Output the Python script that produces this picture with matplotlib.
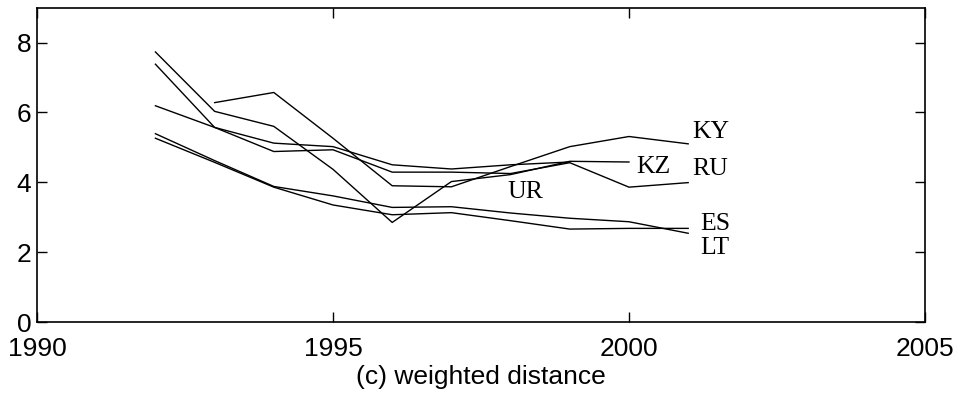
import numpy as np
import matplotlib
matplotlib.use("Agg")
import matplotlib.pyplot as plt

years = [1992, 1993, 1994, 1995, 1996, 1997, 1998, 1999, 2000, 2001]
nan = np.nan

# weighted distance per country
ky = [nan, 6.28, 6.57, 5.26, 3.90, 3.87, 4.45, 5.02, 5.31, 5.10]
kz = [7.73, 6.03, 5.60, 4.37, 2.85, 4.02, 4.22, 4.60, 4.58, nan]
ru = [7.38, 5.57, 4.88, 4.93, 4.29, 4.29, 4.25, 4.56, 3.86, 3.99]
ur = [6.19, 5.57, 5.12, 5.02, 4.50, 4.38, 4.50, 4.58, nan, nan]
es = [5.26, 4.57, 3.86, 3.35, 3.07, 3.13, 2.90, 2.66, 2.68, 2.68]
lt = [5.39, 4.62, 3.88, 3.61, 3.28, 3.30, 3.12, 2.97, 2.87, 2.54]

series = [ky, kz, ru, ur, es, lt]
labels = ["KY", "KZ", "RU", "UR", "ES", "LT"]
label_x = [2001.07, 2000.13, 2001.07, 1997.95, 2001.2, 2001.2]
label_y = [5.44, 4.43, 4.38, 3.72, 2.81, 2.13]

x_ticks = [1990, 1995, 2000, 2005]
y_ticks = [0, 2, 4, 6, 8]

plt.rcParams['font.family'] = ['Liberation Sans', 'DejaVu Sans']

fig = plt.figure(figsize=(9.62, 4.0), dpi=100)
ax = fig.add_axes([0.0385, 0.195, 0.923, 0.786])

for vals in series:
    ax.plot(years, vals, color='black', linewidth=1.0)

for name, tx, ty in zip(labels, label_x, label_y):
    ax.text(tx, ty, name, family=['Liberation Serif', 'DejaVu Serif'],
            fontsize=18.5, ha='left', va='center', color='black')

ax.set_xlim(1990, 2005)
ax.set_ylim(0, 9)
ax.set_xticks(x_ticks)
ax.set_yticks(y_ticks)
ax.tick_params(direction='in', length=7, width=1.0, labelsize=19,
               top=True, right=True)
ax.tick_params(axis='x', pad=11)
ax.tick_params(axis='y', pad=4)
for sp in ax.spines.values():
    sp.set_linewidth(1.2)

ax.set_xlabel('(c) weighted distance', fontsize=19, labelpad=3)

fig.savefig('out.png', dpi=100)
